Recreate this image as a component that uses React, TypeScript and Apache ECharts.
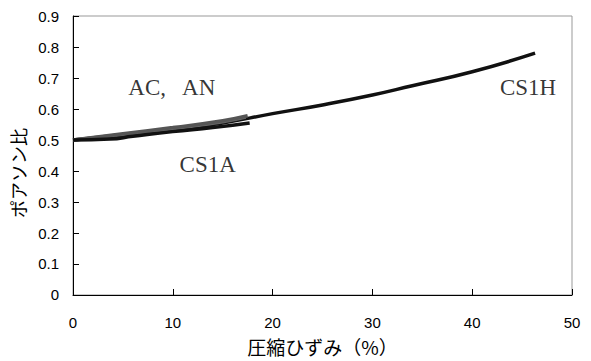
import React, { useEffect, useRef } from "react";
import * as echarts from "echarts";

const cs1hStrain = [0, 5, 10, 15, 20, 25, 30, 34, 40, 46.3];
const cs1hRatio = [0.5, 0.515, 0.533, 0.555, 0.585, 0.613, 0.645, 0.675, 0.72, 0.78];

const acStrain = [0, 5, 10, 15, 17.5];
const acRatio = [0.5, 0.52, 0.54, 0.562, 0.578];

const anStrain = [0, 5, 10, 15, 17.3];
const anRatio = [0.5, 0.518, 0.537, 0.559, 0.574];

const cs1aStrain = [0, 3.7, 6, 10, 14, 17.7];
const cs1aRatio = [0.5, 0.503, 0.512, 0.527, 0.54, 0.555];

const labels = [
  { text: "AC,   AN", x: 9.9, y: 0.67 },
  { text: "CS1A", x: 13.5, y: 0.42 },
  { text: "CS1H", x: 45.6, y: 0.67 },
];

const zip = (xs: number[], ys: number[]) => xs.map((x, i) => [x, ys[i]]);

export default function App() {
  const ref = useRef<HTMLDivElement>(null);
  useEffect(() => {
    const chart = echarts.init(ref.current!, undefined, { renderer: "svg" });
    const serif = "'Liberation Serif', 'DejaVu Serif', serif";
    const cjk = "'Noto Sans CJK JP', sans-serif";
    const lineSeries = (name: string, data: number[][], color: string) => ({
      name,
      type: "line",
      data,
      smooth: true,
      showSymbol: false,
      lineStyle: { color, width: 3.5 },
    });
    chart.setOption({
      animation: false,
      grid: {
        left: 73,
        right: 19,
        top: 16,
        bottom: 64,
        show: true,
        borderColor: "#999",
        borderWidth: 1,
      },
      graphic: [
        {
          type: "text",
          x: 18,
          y: 173,
          rotation: Math.PI / 2,
          style: {
            text: "ポアソン比",
            fontSize: 18,
            fontFamily: cjk,
            fill: "#000",
            align: "center",
            verticalAlign: "middle",
          },
        },
      ],
      xAxis: {
        type: "value",
        min: 0,
        max: 50,
        interval: 10,
        name: "圧縮ひずみ（%）",
        nameLocation: "middle",
        nameGap: 42,
        nameTextStyle: { fontSize: 19, color: "#000", fontFamily: cjk },
        axisLine: { show: true, lineStyle: { color: "#000", width: 1 } },
        axisTick: { show: true, inside: true, length: 6, lineStyle: { color: "#000" } },
        axisLabel: { margin: 20, fontSize: 15, color: "#000", fontFamily: "'Liberation Sans', Arial, sans-serif" },
        splitLine: { show: false },
      },
      yAxis: {
        type: "value",
        min: 0,
        max: 0.9,
        interval: 0.1,
        axisLine: { show: true, lineStyle: { color: "#000", width: 1 } },
        axisTick: { show: true, inside: true, length: 6, lineStyle: { color: "#000" } },
        axisLabel: {
          margin: 14,
          fontSize: 15,
          color: "#000",
          fontFamily: "'Liberation Sans', Arial, sans-serif",
          formatter: (v: number) => (v === 0 ? "0" : v.toFixed(1)),
        },
        splitLine: { show: false },
      },
      series: [
        lineSeries("CS1H", zip(cs1hStrain, cs1hRatio), "#111"),
        lineSeries("AN", zip(anStrain, anRatio), "#666"),
        lineSeries("AC", zip(acStrain, acRatio), "#555"),
        lineSeries("CS1A", zip(cs1aStrain, cs1aRatio), "#111"),
        {
          type: "scatter",
          data: labels.map((l) => [l.x, l.y, l.text]),
          symbolSize: 0,
          silent: true,
          label: {
            show: true,
            position: "inside",
            formatter: (p: any) => p.data[2],
            fontSize: 23,
            color: "#000",
            fontFamily: serif,
          },
        },
      ],
    });
    return () => chart.dispose();
  }, []);
  return (
    <div
      ref={ref}
      style={{ position: "absolute", left: 0, top: 0, width: 591, height: 361 }}
    />
  );
}
